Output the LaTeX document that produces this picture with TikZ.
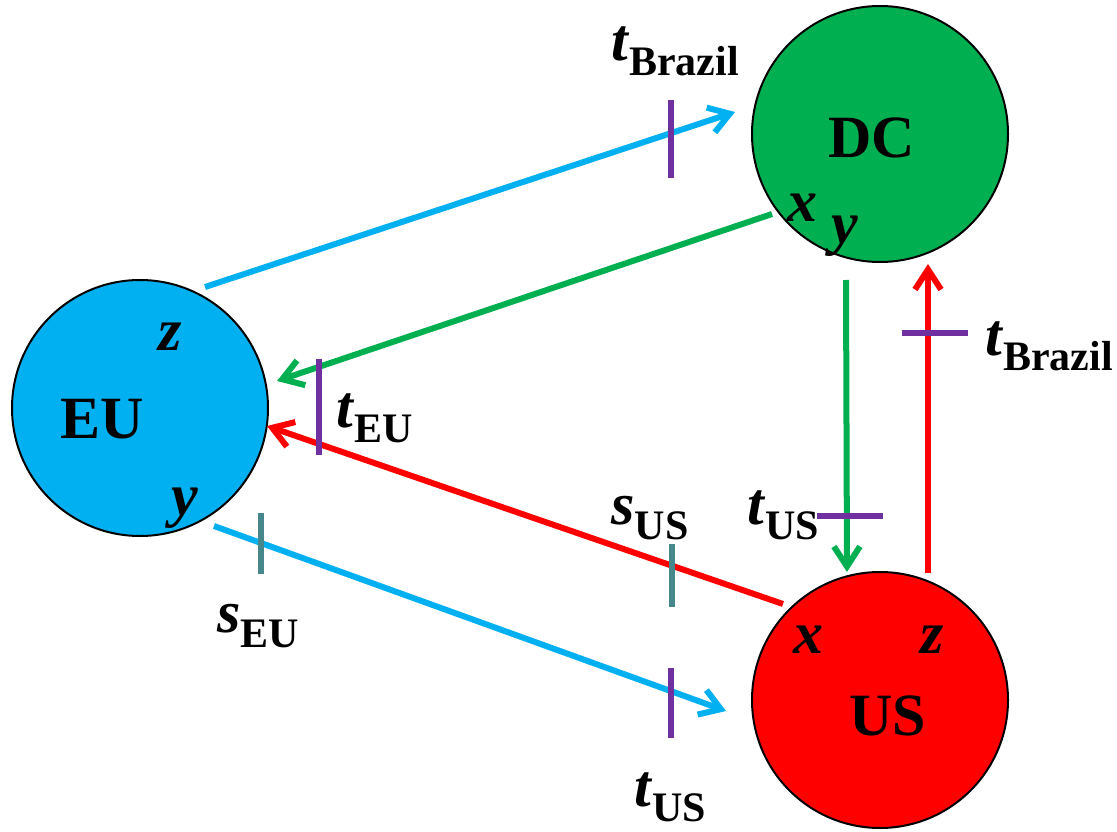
\documentclass[tikz,border=0pt]{standalone}
\usepackage{fontspec}
\setmainfont{Liberation Serif}
\usetikzlibrary{arrows.meta}
\definecolor{cblue}{RGB}{0,176,240}
\definecolor{cgreen}{RGB}{0,176,80}
\definecolor{cred}{RGB}{255,0,0}
\definecolor{cpurple}{RGB}{112,48,160}
\definecolor{cteal}{RGB}{70,135,140}
\newcommand{\varlbl}[2]{\textbf{\textit{#1}}\raisebox{-15pt}{\fontsize{42}{42}\selectfont\bfseries #2}}
\tikzset{
  region/.style={circle, draw=black, line width=2pt, minimum size=256pt, inner sep=0pt},
  conn/.style={line width=6pt, -{Straight Barb[length=20pt,width=26pt]}},
  tickmark/.style={line width=5.5pt},
  lbl/.style={inner sep=0pt, font=\fontsize{60}{60}\selectfont\bfseries},
  vlbl/.style={inner sep=0pt, font=\fontsize{60}{60}\selectfont\bfseries\itshape},
}
\begin{document}
\begin{tikzpicture}[x=1pt, y=-1pt]
\useasboundingbox (0,0) rectangle (1117,832);
% regions
\node[region, fill=cgreen] (DC) at (880,134) {};
\node[region, fill=cblue] (EU) at (140,408) {};
\node[region, fill=cred] (US) at (880,700) {};
% connector end points
\coordinate (a1s) at (205,287); \coordinate (a1e) at (735,112);
\coordinate (a2s) at (772,214); \coordinate (a2e) at (277,381);
\coordinate (a3s) at (783,604); \coordinate (a3e) at (267,426);
\coordinate (a4s) at (214,526); \coordinate (a4e) at (726,711);
\coordinate (a5s) at (846,280); \coordinate (a5e) at (847,572);
\coordinate (a6s) at (928,573); \coordinate (a6e) at (928,264);
% connectors
\draw[conn, cblue] (a1s) -- (a1e);
\draw[conn, cgreen] (a2s) -- (a2e);
\draw[conn, cred] (a3s) -- (a3e);
\draw[conn, cblue] (a4s) -- (a4e);
\draw[conn, cgreen] (a5s) -- (a5e);
\draw[conn, cred] (a6s) -- (a6e);
% tick marks
\coordinate (k1a) at (671,100); \coordinate (k1b) at (671,178);
\coordinate (k2a) at (319,359); \coordinate (k2b) at (319,455);
\coordinate (k3a) at (672,544); \coordinate (k3b) at (672,607);
\coordinate (k4a) at (261,513); \coordinate (k4b) at (261,574);
\coordinate (k5a) at (671,668); \coordinate (k5b) at (671,738);
\coordinate (k6a) at (817,516); \coordinate (k6b) at (883,516);
\coordinate (k7a) at (902,333); \coordinate (k7b) at (968,333);
\draw[tickmark, cpurple] (k1a) -- (k1b);
\draw[tickmark, cpurple] (k2a) -- (k2b);
\draw[tickmark, cteal] (k3a) -- (k3b);
\draw[tickmark, cteal] (k4a) -- (k4b);
\draw[tickmark, cpurple] (k5a) -- (k5b);
\draw[tickmark, cpurple] (k6a) -- (k6b);
\draw[tickmark, cpurple] (k7a) -- (k7b);
% tick labels
\node[lbl] (L1) at (675,51) {\varlbl{t}{Brazil}};
\node[lbl] (L2) at (375,418) {\varlbl{t}{EU}};
\node[lbl] (L3) at (650,518) {\varlbl{s}{US}};
\node[lbl] (L4) at (258,626) {\varlbl{s}{EU}};
\node[lbl] (L5) at (670,797) {\varlbl{t}{US}};
\node[lbl] (L6) at (783,515) {\varlbl{t}{US}};
\node[lbl] (L7) at (1049,346) {\varlbl{t}{Brazil}};
% region texts
\node[lbl] (DCt) at (872,138) {DC};
\node[vlbl] (DCx) at (802,208) {x};
\node[vlbl] (DCy) at (845,236) {y};
\node[lbl] (EUt) at (102,419) {EU};
\node[vlbl] (EUz) at (170,337) {z};
\node[vlbl] (EUy) at (185,508) {y};
\node[lbl] (USt) at (888,716) {US};
\node[vlbl] (USx) at (808,640) {x};
\node[vlbl] (USz) at (932,640) {z};
\end{tikzpicture}
\end{document}
